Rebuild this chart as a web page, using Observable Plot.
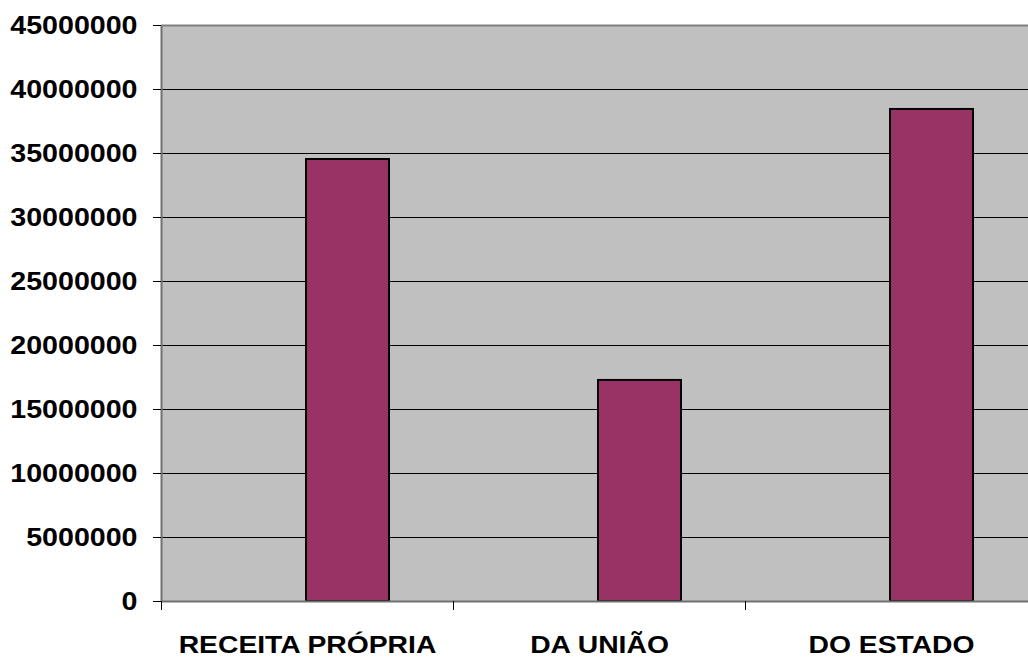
<!DOCTYPE html>
<html><head><meta charset="utf-8">
<script src="https://cdn.jsdelivr.net/npm/d3@7"></script>
<script src="https://cdn.jsdelivr.net/npm/@observablehq/plot@0.6"></script>
<style>body{margin:0;background:#fff;}</style>
</head><body><div id="chart"></div>
<script>
const categories = ["RECEITA PRÓPRIA", "DA UNIÃO", "DO ESTADO"];
const values = [34530000, 17270000, 38440000];
const yTicks = [0, 5000000, 10000000, 15000000, 20000000, 25000000, 30000000, 35000000, 40000000, 45000000];

const data = categories.map((c, i) => ({category: c, value: values[i]}));
const halfBand = 146;

const plot = Plot.plot({
  width: 1028, height: 660,
  marginLeft: 161, marginRight: 0, marginTop: 25, marginBottom: 59,
  style: {fontFamily: "'Liberation Sans', Arial, sans-serif", fontWeight: "bold", background: "#fff", color: "#000"},
  x: {domain: categories, range: [161, 1037], padding: 0, axis: null},
  y: {domain: [0, 45000000], axis: null},
  marks: [
    Plot.frame({fill: "#C0C0C0", stroke: null}),
    Plot.gridY(yTicks.slice(1, -1), {stroke: "#000", strokeOpacity: 1, strokeWidth: 1}),
    Plot.ruleY([45000000], {stroke: "#808080", strokeWidth: 2}),
    Plot.barY(data, {x: "category", y: "value", fill: "#993366", stroke: "#000", strokeWidth: 2, insetLeft: 145, insetRight: 64}),
    Plot.ruleY([0], {stroke: "#707070", strokeWidth: 2}),
    Plot.ruleX(categories.slice(0, 1), {x: d => d, dx: -halfBand, stroke: "#707070", strokeWidth: 2}),
    Plot.ruleX(categories, {x: d => d, dx: -halfBand, y1: 0, y2: 0, insetBottom: -9, stroke: "#000", strokeWidth: 1}),
    Plot.axisY(yTicks, {tickSize: 8, tickPadding: 16, tickFormat: d => String(d), fontSize: 26, fontWeight: "bold", label: null, stroke: "#000"}),
    Plot.axisX({tickSize: 0, tickPadding: 35, fontSize: 23, fontWeight: "bold", label: null})
  ]
});

function stretch(sel, k) {
  plot.querySelectorAll(sel).forEach(el => {
    const t = el.getAttribute("transform") || "";
    el.setAttribute("transform", `${t} scale(${k},1)`);
  });
}
stretch('g[aria-label="y-axis tick label"] text', 1.1);
stretch('g[aria-label="x-axis tick label"] text', 1.23);

document.getElementById("chart").append(plot);
</script>
</body></html>
